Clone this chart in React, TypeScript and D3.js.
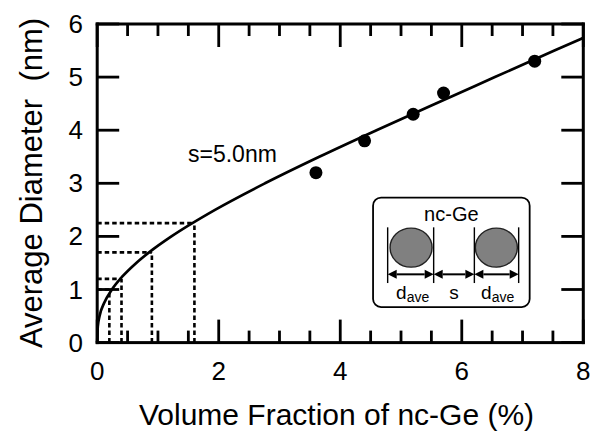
import React from "react";
import * as d3 from "d3";

// ---- data ----
const pointVolume = [3.6, 4.4, 5.2, 5.7, 7.2];
const pointDiameter = [3.2, 3.8, 4.3, 4.7, 5.3];

// model curve (s = 5.0 nm)
const curveVolume = [0, 0.0095, 0.039, 0.116, 0.242, 0.419, 0.643, 0.912, 1.221, 1.939, 2.761, 3.655, 4.597, 5.565, 6.545, 7.525, 8.0];
const curveDiameter = [0, 0.3, 0.5, 0.75, 1.0, 1.25, 1.5, 1.75, 2.0, 2.5, 3.0, 3.5, 4.0, 4.5, 5.0, 5.5, 5.74];

// dotted guides
const guideVolume = [0.2, 0.4, 0.9, 1.6];
const guideDiameter = [1.0, 1.2, 1.7, 2.25];

const xTickLabels = [0, 2, 4, 6, 8];
const yTickLabels = [0, 1, 2, 3, 4, 5, 6];
const xMinorTicks = d3.range(0, 8.01, 0.5);

const xTitle = "Volume Fraction of nc-Ge (%)";
const yTitle = "Average Diameter  (nm)";
const curveLabel = "s=5.0nm";

const W = 602, H = 432;
const L = 97.2, R = 583.3, T = 24, B = 342.6;
const FONT = "'Liberation Sans', Arial, Helvetica, sans-serif";

export default function App() {
  const x = d3.scaleLinear().domain([0, 8]).range([L, R]);
  const y = d3.scaleLinear().domain([0, 6]).range([B, T]);

  const line = d3.line<number>()
    .x((_, i) => x(curveVolume[i]))
    .y((d) => y(d))
    .curve(d3.curveMonotoneX);

  // inset geometry (pixels relative to inset origin)
  const ix = x(4.54), iy = y(2.73);
  const bw = 156.6, bh = 109.4;
  const vLines = [14.6, 60.6, 101.3, 145.6];
  const arrowY = 76.7;
  const lineTop = 29.7, lineBot = 85.4;
  const ah = 9, aw = 4.5;

  const arrowSeg = (a: number, b: number, k: number) => (
    <g key={k}>
      <rect x={a + ah} y={arrowY - 1} width={b - a - 2 * ah} height={2} fill="#000" />
      <path d={`M${a},${arrowY} L${a + ah},${arrowY - aw} L${a + ah},${arrowY + aw} Z`} fill="#000" />
      <path d={`M${b},${arrowY} L${b - ah},${arrowY - aw} L${b - ah},${arrowY + aw} Z`} fill="#000" />
    </g>
  );

  const tw = 2.8; // tick thickness
  const aw2 = 3; // axis thickness
  const tickRects: { x: number; y: number; w: number; h: number }[] = [];
  xMinorTicks.forEach((v) => {
    const major = Math.abs(v % 2) < 1e-6;
    const len = major ? 23 : 12;
    tickRects.push({ x: x(v) - tw / 2, y: B - len, w: tw, h: len });
    tickRects.push({ x: x(v) - tw / 2, y: T, w: tw, h: len });
  });
  yTickLabels.forEach((v) => {
    tickRects.push({ x: L, y: y(v) - tw / 2, w: 22, h: tw });
    tickRects.push({ x: R - 22, y: y(v) - tw / 2, w: 22, h: tw });
  });
  // frame
  tickRects.push({ x: L - aw2 / 2, y: T - aw2 / 2, w: R - L + aw2, h: aw2 });
  tickRects.push({ x: L - aw2 / 2, y: B - aw2 / 2, w: R - L + aw2, h: aw2 });
  tickRects.push({ x: L - aw2 / 2, y: T - aw2 / 2, w: aw2, h: B - T + aw2 });
  tickRects.push({ x: R - aw2 / 2, y: T - aw2 / 2, w: aw2, h: B - T + aw2 });

  const guidePath = d3.path();
  guideVolume.forEach((gv, i) => {
    guidePath.moveTo(x(0), y(guideDiameter[i]));
    guidePath.lineTo(x(gv), y(guideDiameter[i]));
    guidePath.moveTo(x(gv), y(0));
    guidePath.lineTo(x(gv), y(guideDiameter[i]));
  });

  return (
    <div style={{ position: "absolute", left: 0, top: 0 }}>
      <svg width={W} height={H} style={{ display: "block", background: "#fff" }} fontFamily={FONT}>
        <rect width={W} height={H} fill="#fff" />
        {/* dotted guides */}
        <path d={guidePath.toString()} fill="none" stroke="#000" strokeWidth={2.6} strokeDasharray="4.5,3" />
        {/* curve */}
        <path d={line(curveDiameter) || ""} fill="none" stroke="#000" strokeWidth={2.7} />
        {/* points */}
        {pointVolume.map((v, i) => (
          <circle key={"p" + i} cx={x(v)} cy={y(pointDiameter[i])} r={6.5} fill="#000" />
        ))}
        {/* frame + ticks */}
        {tickRects.map((t, i) => (
          <rect key={"t" + i} x={t.x} y={t.y} width={t.w} height={t.h} fill="#000" />
        ))}
        {/* tick labels */}
        {xTickLabels.map((v) => (
          <text key={"xl" + v} x={x(v)} y={380} textAnchor="middle" fontSize={26}>{v}</text>
        ))}
        {yTickLabels.map((v) => (
          <text key={"yl" + v} x={83} y={y(v) + 9} textAnchor="end" fontSize={26}>{v}</text>
        ))}
        {/* titles */}
        <text x={(140 + 533) / 2} y={425} textAnchor="middle" fontSize={30}>{xTitle}</text>
        <text transform={`translate(42,${(13 + 353) / 2}) rotate(-90)`} textAnchor="middle" fontSize={31} style={{ whiteSpace: "pre" }}>{yTitle}</text>
        {/* curve label */}
        <text x={188} y={162} fontSize={23}>{curveLabel}</text>
        {/* inset */}
        <g transform={`translate(${ix},${iy})`}>
          <rect x={0} y={0} width={bw} height={bh} rx={8} fill="#fff" stroke="#000" strokeWidth={1.8} />
          <text x={bw / 2} y={23} textAnchor="middle" fontSize={20}>nc-Ge</text>
          <ellipse cx={38} cy={50} rx={21} ry={19.5} fill="#808080" stroke="#222" strokeWidth={1.4} />
          <ellipse cx={123.3} cy={50} rx={21} ry={19.5} fill="#808080" stroke="#222" strokeWidth={1.4} />
          {vLines.map((vx, i) => (
            <rect key={"vl" + i} x={vx - 0.7} y={lineTop} width={1.4} height={lineBot - lineTop} fill="#000" />
          ))}
          {arrowSeg(vLines[0], vLines[1], 0)}
          {arrowSeg(vLines[1], vLines[2], 1)}
          {arrowSeg(vLines[2], vLines[3], 2)}
          <text x={23} y={101} fontSize={19}>d<tspan fontSize={14} dy={3}>ave</tspan></text>
          <text x={81} y={101} textAnchor="middle" fontSize={19}>s</text>
          <text x={108} y={101} fontSize={19}>d<tspan fontSize={14} dy={3}>ave</tspan></text>
        </g>
      </svg>
    </div>
  );
}
